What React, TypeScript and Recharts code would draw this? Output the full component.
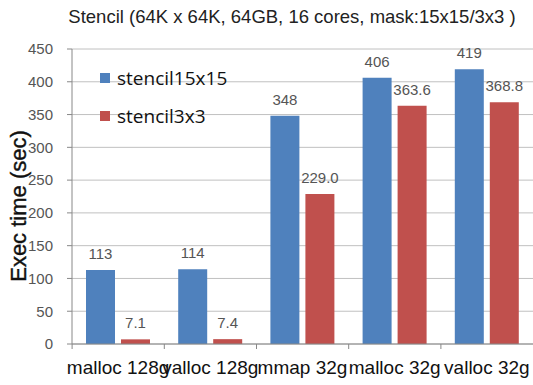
import { Bar, BarChart, CartesianGrid, LabelList, XAxis, YAxis } from 'recharts'

const categories = ['malloc 128g', 'valloc 128g', 'mmap 32g', 'malloc 32g', 'valloc 32g']
const stencil15x15 = [113, 114, 348, 406, 419]
const stencil3x3 = [7.1, 7.4, 229.0, 363.6, 368.8]
const yTicks = [0, 50, 100, 150, 200, 250, 300, 350, 400, 450]

const data = categories.map((name, i) => ({ name, s15: stencil15x15[i], s3: stencil3x3[i] }))

const BLUE = '#4f81bd'
const RED = '#c0504d'
const FONT = '"Liberation Sans", Arial, sans-serif'

function CatTick(props: any) {
  const { x, y, payload } = props
  return (
    <g>
      <line x1={x - 46} x2={x - 46} y1={y - 8} y2={y - 3} stroke="#888" />
      <text x={x} y={y + 22} textAnchor="middle" fontSize={19} fill="#111" fontFamily={FONT}>
        {payload.value}
      </text>
    </g>
  )
}

export default function App() {
  return (
    <div style={{ position: 'absolute', left: 0, top: 0, width: 533, height: 385, background: '#fff' }}>
      <div
        style={{
          position: 'absolute',
          left: 0,
          width: 584,
          top: 6,
          textAlign: 'center',
          fontFamily: FONT,
          fontSize: 18.5,
          color: '#222',
          whiteSpace: 'nowrap',
        }}
      >
        Stencil (64K x 64K, 64GB, 16 cores, mask:15x15/3x3 )
      </div>
      <div
        style={{
          position: 'absolute',
          left: 19,
          top: 206,
          transform: 'translate(-50%, -50%) rotate(-90deg)',
          whiteSpace: 'nowrap',
          fontFamily: FONT,
          fontSize: 22,
          color: '#111',
          WebkitTextStroke: '0.4px #111',
        }}
      >
        Exec time (sec)
      </div>
      <BarChart
        width={533}
        height={385}
        data={data}
        margin={{ top: 49, right: 0, left: 32, bottom: 11 }}
        barCategoryGap={14}
        barGap={6}
      >
        <CartesianGrid vertical={false} stroke="#c0c0c0" />
        <XAxis
          dataKey="name"
          height={30}
          interval={0}
          tickLine={false}
          axisLine={{ stroke: '#888' }}
          tick={<CatTick />}
        />
        <YAxis
          width={40}
          domain={[0, 450]}
          ticks={yTicks}
          tickSize={5}
          tickMargin={14}
          axisLine={{ stroke: '#888' }}
          tickLine={{ stroke: '#888' }}
          tick={{ fontSize: 15, fill: '#555', fontFamily: FONT }}
        />
        <Bar dataKey="s15" name="stencil15x15" fill={BLUE} isAnimationActive={false}>
          <LabelList dataKey="s15" position="top" offset={11} fill="#555" fontSize={15} fontFamily={FONT} />
        </Bar>
        <Bar dataKey="s3" name="stencil3x3" fill={RED} isAnimationActive={false}>
          <LabelList
            dataKey="s3"
            position="top"
            offset={11}
            fill="#555"
            fontSize={15}
            fontFamily={FONT}
            formatter={(v: any) => Number(v).toFixed(1)}
          />
        </Bar>
      </BarChart>
      <div style={{ position: 'absolute', left: 100, top: 59, fontFamily: '"Open Sans", sans-serif', fontSize: 19, color: '#111' }}>
        <div style={{ display: 'flex', alignItems: 'center', height: 38 }}>
          <span style={{ width: 10, height: 10, background: BLUE, marginRight: 7, display: 'inline-block' }} />
          stencil15x15
        </div>
        <div style={{ display: 'flex', alignItems: 'center', height: 38 }}>
          <span style={{ width: 10, height: 10, background: RED, marginRight: 7, display: 'inline-block' }} />
          stencil3x3
        </div>
      </div>
    </div>
  )
}
